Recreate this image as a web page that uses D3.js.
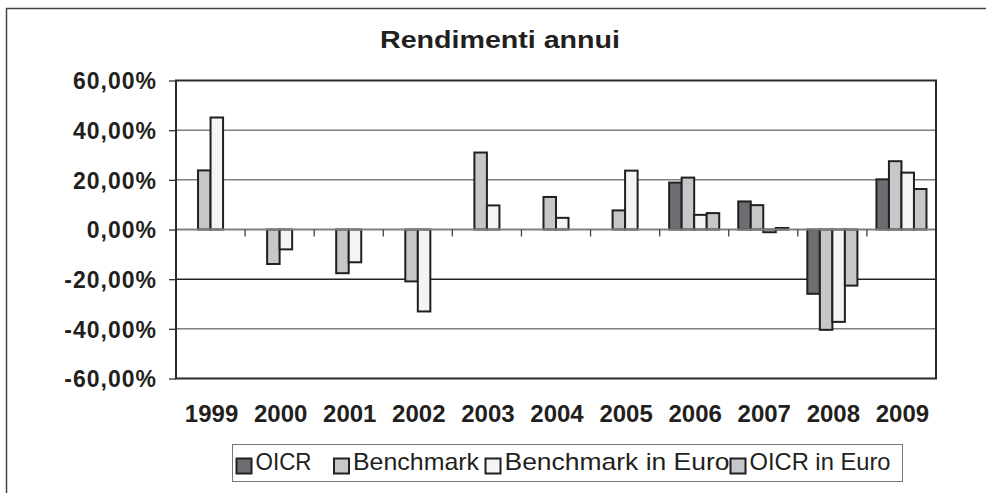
<!DOCTYPE html>
<meta charset="utf-8">
<style>
body { margin: 0; background: #fff; }
text { font-family: "Liberation Sans", Arial, sans-serif; fill: #231f20; }
.ytick, .xtick, .title { font-weight: bold; }
</style>
<body>
<script src="https://d3js.org/d3.v7.min.js"></script>
<script>

// data (percent)
const years = ["1999", "2000", "2001", "2002", "2003", "2004", "2005", "2006", "2007", "2008", "2009"];
const seriesNames = ["OICR", "Benchmark", "Benchmark in Euro", "OICR in Euro"];
const oicr          = [null, null, null, null, null, null, null, 18.9, 11.3, -25.9, 20.2];
const benchmark     = [23.8, -13.9, -17.6, -20.9, 31.0, 13.1, 7.7, 20.9, 9.8, -40.4, 27.5];
const benchmarkEuro = [45.1, -8.0, -13.2, -33.0, 9.7, 4.7, 23.7, 5.9, -1.1, -37.2, 22.9];
const oicrEuro      = [null, null, null, null, null, null, null, 6.6, 0.6, -22.6, 16.3];
const yTicks = [-60, -40, -20, 0, 20, 40, 60];

const colors = ["#6d6e71", "#c6c7c9", "#f4f4f4", "#c6c7c9"];
const allSeries = [oicr, benchmark, benchmarkEuro, oicrEuro];

const W = 986, H = 493;
const plot = {left: 176, right: 936, top: 80.5, bottom: 378.5};

const svg = d3.select("body").append("svg")
    .attr("width", W)
    .attr("height", H);

// outer frame (cut by the picture on the right and bottom)
svg.append("path")
    .attr("d", `M6.5,${H + 2}V8.5H${W + 2}`)
    .attr("fill", "none")
    .attr("stroke", "#444")
    .attr("stroke-width", 1.5);

const x = d3.scaleBand().domain(years).range([plot.left, plot.right]);
const xInner = d3.scaleBand().domain(d3.range(4)).range([0, x.bandwidth()]).paddingOuter(0.76);
const y = d3.scaleLinear().domain([-60, 60]).range([plot.bottom, plot.top]);

const it = d3.formatLocale({decimal: ",", thousands: ".", grouping: [3], currency: ["€", ""], minus: "-"});
const fmt = v => it.format(".2f")(v) + "%";

// title (the source picture is stretched sideways)
svg.append("text")
    .attr("class", "title")
    .attr("x", 380)
    .attr("y", 48)
    .style("font-size", "24px")
    .attr("textLength", 240)
    .attr("lengthAdjust", "spacingAndGlyphs")
    .text("Rendimenti annui");

// horizontal grid
svg.append("g")
    .selectAll("line")
    .data(yTicks.filter(d => d !== 0 && Math.abs(d) !== 60))
    .join("line")
    .attr("x1", plot.left).attr("x2", plot.right)
    .attr("y1", d => y(d)).attr("y2", d => y(d))
    .attr("stroke", d => d === -20 ? "#222" : "#808080")
    .attr("stroke-width", 1.5);

// y axis ticks + labels
const yAxis = svg.append("g")
    .attr("transform", `translate(${plot.left},0)`)
    .call(d3.axisLeft(y).tickValues(yTicks).tickSize(7).tickPadding(12).tickFormat(fmt));
yAxis.select(".domain").remove();
yAxis.selectAll(".tick line").attr("stroke", "#333").attr("stroke-width", 1.3);
yAxis.selectAll(".tick text")
    .attr("class", "ytick")
    .attr("dy", "0.36em")
    .style("font-size", "23px")
    .style("letter-spacing", "1px")
    .style("font-family", "'Liberation Sans', Arial, sans-serif")
    .attr("fill", "#231f20");

// bars
const groups = svg.append("g")
    .selectAll("g")
    .data(years)
    .join("g")
    .attr("transform", d => `translate(${x(d)},0)`);

groups.selectAll("rect")
    .data((d, i) => allSeries.map((s, k) => ({k: k, v: s[i]})).filter(e => e.v !== null))
    .join("rect")
    .attr("x", e => xInner(e.k))
    .attr("width", xInner.bandwidth())
    .attr("y", e => y(Math.max(0, e.v)))
    .attr("height", e => Math.abs(y(e.v) - y(0)))
    .attr("fill", e => colors[e.k])
    .attr("stroke", "#231f20")
    .attr("stroke-width", 2);

// zero axis with category ticks
svg.append("line")
    .attr("x1", plot.left).attr("x2", plot.right)
    .attr("y1", y(0)).attr("y2", y(0))
    .attr("stroke", "#808080")
    .attr("stroke-width", 2);
svg.append("g")
    .selectAll("line")
    .data(years.slice(1))
    .join("line")
    .attr("x1", d => x(d)).attr("x2", d => x(d))
    .attr("y1", y(0)).attr("y2", y(0) + 7)
    .attr("stroke", "#444")
    .attr("stroke-width", 1.3);

// plot border
svg.append("rect")
    .attr("x", plot.left).attr("y", plot.top)
    .attr("width", plot.right - plot.left)
    .attr("height", plot.bottom - plot.top)
    .attr("fill", "none")
    .attr("stroke", "#2a2a2a")
    .attr("stroke-width", 2);

// year labels
svg.append("g")
    .selectAll("text")
    .data(years)
    .join("text")
    .attr("class", "xtick")
    .attr("x", d => x(d) + x.bandwidth() / 2 + 1)
    .attr("y", 422)
    .attr("text-anchor", "middle")
    .style("font-size", "24px")
    .text(d => d);

// legend
const legend = svg.append("g");
legend.append("rect")
    .attr("x", 232.5).attr("y", 444.5)
    .attr("width", 670).attr("height", 37)
    .attr("fill", "#fff")
    .attr("stroke", "#777")
    .attr("stroke-width", 1);

const legendX = [236.5, 334, 485.5, 730.5];
const legendW = [56, 126, 225, 141];
const items = legend.selectAll("g")
    .data(seriesNames)
    .join("g")
    .attr("transform", (d, i) => `translate(${legendX[i]},458.5)`);
items.append("rect")
    .attr("width", 15).attr("height", 15)
    .attr("fill", (d, i) => colors[i])
    .attr("stroke", "#231f20")
    .attr("stroke-width", 2);
items.append("text")
    .attr("x", 19)
    .attr("y", 11.5)
    .style("font-size", "24px")
    .attr("textLength", (d, i) => legendW[i])
    .attr("lengthAdjust", "spacingAndGlyphs")
    .text(d => d);

</script>
</body>
